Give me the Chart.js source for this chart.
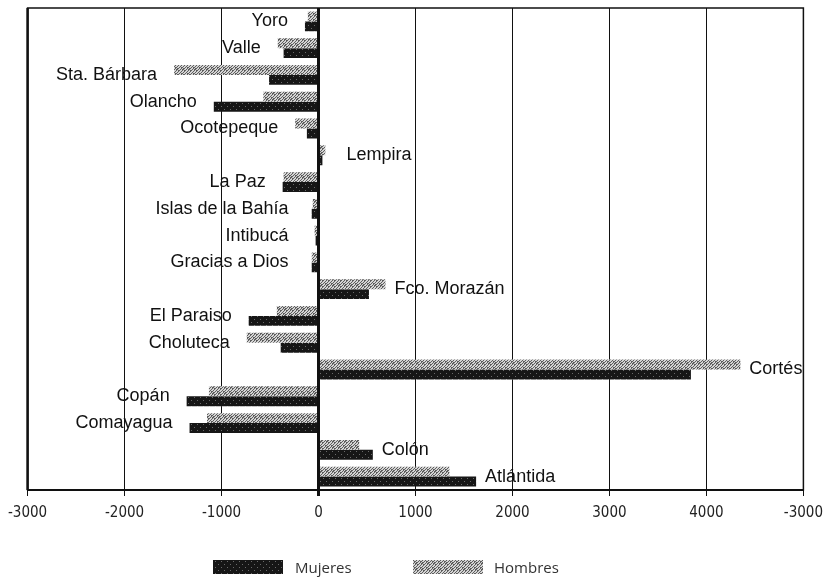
<!DOCTYPE html>
<html>
<head>
<meta charset="utf-8">
<script src="https://cdn.jsdelivr.net/npm/chart.js@4"></script>
<style>
    body { margin: 0; background: #fff; }
    #wrap { position: relative; width: 831px; height: 588px; }
    .leg { position: absolute; top: 557px; height: 20px; font-family: "Open Sans", sans-serif; font-size: 15px; color: #333; line-height: 20px; }
    .sw { position: absolute; top: 3px; width: 70px; height: 14px; }
</style>
</head>
<body>
<div id="wrap">
    <canvas id="chart" width="831" height="588"></canvas>
    <div class="leg" style="left:213px"><span class="sw" id="swM" style="left:0"></span><span style="margin-left:82px">Mujeres</span></div>
    <div class="leg" style="left:413px"><span class="sw" id="swH" style="left:0"></span><span style="margin-left:81px">Hombres</span></div>
</div>
<script>
// Departments, top to bottom
const categories = ['Yoro', 'Valle', 'Sta. Bárbara', 'Olancho', 'Ocotepeque', 'Lempira', 'La Paz',
    'Islas de la Bahía', 'Intibucá', 'Gracias a Dios', 'Fco. Morazán', 'El Paraiso', 'Choluteca',
    'Cortés', 'Copán', 'Comayagua', 'Colón', 'Atlántida'];

const hombres = [-110, -420, -1490, -570, -240, 70, -360, -60, -40, -70, 690, -430, -740, 4350, -1130, -1150, 420, 1350];
const mujeres = [-140, -360, -510, -1080, -120, 40, -370, -70, -30, -70, 520, -720, -390, 3840, -1360, -1330, 560, 1625];

// tick labels as printed (last one really is "-3000")
const xTicks = [-3000, -2000, -1000, 0, 1000, 2000, 3000, 4000, 5000];
const xTickLabels = ['-3000', '-2000', '-1000', '0', '1000', '2000', '3000', '4000', '-3000'];

// --- scanned-looking fills ---
function makeTile(base, dot, test) {
    const c = document.createElement('canvas');
    c.width = 6; c.height = 6;
    const g = c.getContext('2d');
    g.fillStyle = base;
    g.fillRect(0, 0, 6, 6);
    g.fillStyle = dot;
    for (let y = 0; y < 6; y++) {
        for (let x = 0; x < 6; x++) {
            if (test(x, y)) g.fillRect(x, y, 1, 1);
        }
    }
    return c;
}

const tileH = makeTile('#d4d4d4', '#5e5e5e', (x, y) => (x + y) % 3 === 0 || (x * y) % 5 === 1);
const tileM = makeTile('#161616', '#6a6a6a', (x, y) => (x === 2 && y === 1) || (x === 5 && y === 4));

const ctx = document.getElementById('chart').getContext('2d');
const fillH = ctx.createPattern(tileH, 'repeat');
const fillM = ctx.createPattern(tileM, 'repeat');

document.getElementById('swH').style.background = 'url(' + tileH.toDataURL() + ')';
document.getElementById('swM').style.background = 'url(' + tileM.toDataURL() + ')';

// department names next to the bar ends
const barLabels = {
    id: 'barLabels',
    afterDatasetsDraw(chart) {
        const g = chart.ctx;
        const zero = chart.scales.x.getPixelForValue(0);
        const mh = chart.getDatasetMeta(0).data;
        const mm = chart.getDatasetMeta(1).data;
        g.save();
        g.font = '18px "Liberation Sans", Arial, sans-serif';
        g.fillStyle = '#111';
        g.textBaseline = 'middle';
        categories.forEach((name, i) => {
            const y = (mh[i].y + mm[i].y) / 2;
            if (hombres[i] + mujeres[i] < 0) {
                const x = Math.min(mh[i].x, mm[i].x);
                g.textAlign = 'right';
                g.fillText(name, Math.min(x - 17, zero - 30), y);
            } else {
                const x = Math.max(mh[i].x, mm[i].x);
                g.textAlign = 'left';
                g.fillText(name, Math.max(x + 9, zero + 28), y);
            }
        });
        g.restore();
    }
};

// box around the plot
const frame = {
    id: 'frame',
    afterDraw(chart) {
        const a = chart.chartArea;
        const g = chart.ctx;
        g.save();
        g.strokeStyle = '#111';
        g.lineWidth = 1.5;
        g.strokeRect(a.left, a.top, a.right - a.left, a.bottom - a.top);
        g.lineWidth = 2.5;
        g.beginPath();
        g.moveTo(a.left, a.top);
        g.lineTo(a.left, a.bottom);
        g.stroke();
        g.restore();
    }
};

new Chart(ctx, {
    type: 'bar',
    data: {
        labels: categories,
        datasets: [
            { label: 'Hombres', data: hombres, backgroundColor: fillH },
            { label: 'Mujeres', data: mujeres, backgroundColor: fillM }
        ]
    },
    options: {
        indexAxis: 'y',
        responsive: false,
        animation: false,
        layout: { padding: { left: 26, right: 21, top: 8, bottom: 58 } },
        datasets: { bar: { barPercentage: 1, categoryPercentage: 0.74 } },
        plugins: { legend: { display: false }, tooltip: { enabled: false } },
        scales: {
            x: {
                min: -3000,
                max: 5000,
                afterBuildTicks: s => { s.ticks = xTicks.map(v => ({ value: v })); },
                ticks: {
                    padding: 8,
                    color: '#222',
                    font: { family: '"Liberation Sans Narrow", "DejaVu Sans Condensed", sans-serif', size: 15 },
                    callback: (v, i) => xTickLabels[i]
                },
                grid: {
                    color: '#111',
                    lineWidth: c => (c.tick && c.tick.value === 0 ? 3 : 1),
                    tickLength: 6
                },
                border: { color: '#111', width: 2 }
            },
            y: { display: false }
        }
    },
    plugins: [barLabels, frame]
});
</script>
</body>
</html>
